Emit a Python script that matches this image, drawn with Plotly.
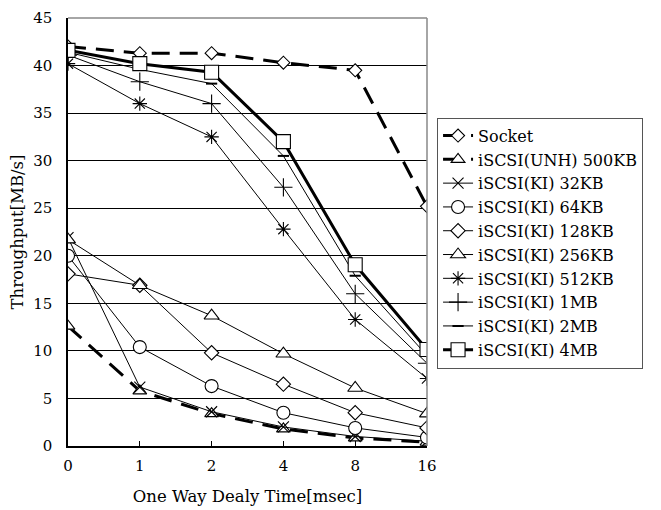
import plotly.graph_objects as go

delays = ["0", "1", "2", "4", "8", "16"]

socket = [42.0, 41.3, 41.3, 40.3, 39.5, 25.2]
unh_500kb = [12.6, 5.8, 3.4, 1.8, 0.85, 0.4]
ki_32kb = [21.9, 6.2, 3.6, 2.0, 1.0, 0.5]
ki_64kb = [20.0, 10.4, 6.3, 3.5, 1.9, 0.9]
ki_128kb = [18.1, 16.9, 9.8, 6.5, 3.5, 1.9]
ki_256kb = [21.7, 16.9, 13.7, 9.7, 6.1, 3.4]
ki_512kb = [40.2, 36.0, 32.5, 22.8, 13.3, 7.1]
ki_1mb = [41.1, 38.3, 36.0, 27.2, 16.0, 8.7]
ki_2mb = [41.4, 39.6, 38.1, 30.5, 17.9, 9.5]
ki_4mb = [41.6, 40.2, 39.3, 32.0, 19.05, 10.15]

series = [
    ("Socket", socket, "diamond", 10, 3, "18px,10px"),
    ("iSCSI(UNH) 500KB", unh_500kb, "triangle-up", 12, 3, "18px,10px"),
    ("iSCSI(KI) 32KB", ki_32kb, "x-thin-open", 11, 1, "solid"),
    ("iSCSI(KI) 64KB", ki_64kb, "circle", 13, 1, "solid"),
    ("iSCSI(KI) 128KB", ki_128kb, "diamond", 11, 1, "solid"),
    ("iSCSI(KI) 256KB", ki_256kb, "triangle-up", 13, 1, "solid"),
    ("iSCSI(KI) 512KB", ki_512kb, "asterisk-open", 12, 1, "solid"),
    ("iSCSI(KI) 1MB", ki_1mb, "cross-thin-open", 13, 1, "solid"),
    ("iSCSI(KI) 2MB", ki_2mb, "line-ew-open", 8, 1, "solid"),
    ("iSCSI(KI) 4MB", ki_4mb, "square", 14, 3, "solid"),
]

xpos = list(range(len(delays)))

fig = go.Figure()
for name, vals, sym, size, lw, dash in series:
    is_open = sym.endswith("-open")
    fig.add_trace(go.Scatter(
        x=xpos, y=vals, name=name, mode="lines+markers",
        line=dict(color="black", width=lw, dash=dash),
        marker=dict(symbol=sym, size=size,
                    color="black" if is_open else "white",
                    line=dict(color="black", width=2 if sym == "line-ew-open" else 1.1)),
    ))

ff = "'DejaVu Serif', 'Liberation Serif', serif"
fig.update_layout(
    width=653, height=502,
    margin=dict(l=60, r=234, t=10, b=64, autoexpand=False),
    paper_bgcolor="white", plot_bgcolor="white",
    font=dict(family=ff, size=15, color="black"),
    showlegend=True,
    legend=dict(
        x=1.028, y=0.474, xanchor="left", yanchor="middle",
        bordercolor="#555", borderwidth=1, bgcolor="white",
        font=dict(family=ff, size=16, color="black"),
        tracegroupgap=0, itemwidth=30,
    ),
    xaxis=dict(
        tickmode="array", tickvals=xpos, ticktext=delays,
        range=[0, 5], showgrid=False, zeroline=False, automargin=False,
        showline=True, linecolor="black", linewidth=1.5,
        ticks="inside", ticklen=5, tickcolor="black", ticklabelstandoff=5,
        title=dict(text="One Way Dealy Time[msec]", standoff=17,
                   font=dict(family=ff, size=16.5)),
        tickfont=dict(family=ff, size=15),
    ),
    yaxis=dict(
        range=[0, 45], dtick=5, showgrid=True, gridcolor="black", gridwidth=1,
        zeroline=False, showline=True, linecolor="black", linewidth=1.5,
        automargin=False, ticks="", ticklabelstandoff=11,
        title=dict(text="Throughput[MB/s]", standoff=13,
                   font=dict(family=ff, size=16.5)),
        tickfont=dict(family=ff, size=15),
    ),
    shapes=[
        dict(type="line", xref="paper", yref="paper", x0=0, x1=1, y0=1, y1=1,
             line=dict(color="#888", width=1.5)),
        dict(type="line", xref="paper", yref="paper", x0=1, x1=1, y0=0, y1=1,
             line=dict(color="#888", width=1.5)),
    ],
)

fig.write_html("out.html")
